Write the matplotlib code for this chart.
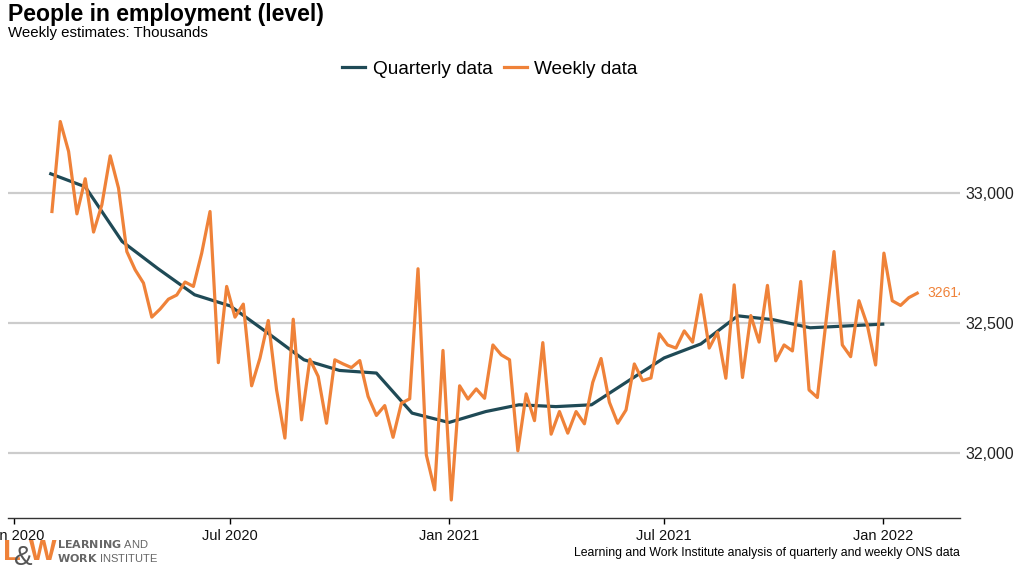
import numpy as np
import pandas as pd
import matplotlib
matplotlib.use('Agg')
import matplotlib.pyplot as plt
import matplotlib.dates as mdates
from matplotlib.ticker import FuncFormatter

plt.rcParams['font.family'] = ['Liberation Sans', 'DejaVu Sans']

# weekly estimates (thousands), one per week from 2 Feb 2020
weekly_dates = pd.date_range('2020-02-02', periods=105, freq='7D')
weekly_values = [
    32928, 33274, 33159, 32919, 33054, 32849, 32954, 33142, 33018, 32774,
    32704, 32653, 32522, 32553, 32591, 32607, 32657, 32640, 32768, 32928,
    32347, 32640, 32522, 32572, 32258, 32364, 32509, 32242, 32057, 32514,
    32127, 32360, 32294, 32114, 32358, 32342, 32328, 32355, 32217, 32144,
    32182, 32060, 32191, 32208, 32708, 31992, 31858, 32394, 31819, 32258,
    32207, 32246, 32210, 32415, 32377, 32358, 32008, 32227, 32124, 32424,
    32072, 32159, 32076, 32159, 32112, 32271, 32363, 32195, 32114, 32165,
    32342, 32278, 32288, 32458, 32415, 32403, 32469, 32426, 32608, 32403,
    32464, 32287, 32646, 32290, 32528, 32426, 32644, 32354, 32415, 32392,
    32659, 32242, 32213, 32494, 32774, 32415, 32370, 32585, 32492, 32338,
    32768, 32585, 32567, 32597, 32614,
]

# quarterly (rolling three month) estimates, monthly points
quarterly_dates = pd.date_range('2020-02-01', '2022-01-01', freq='MS')
quarterly_values = [
    33073, 33023, 32813, 32709, 32608, 32565, 32463, 32358, 32317, 32307,
    32153, 32117, 32159, 32185, 32178, 32185, 32277, 32365, 32419, 32527,
    32512, 32481, 32488, 32495,
]

orange = '#EF8239'
teal = '#1F4A56'

fig = plt.figure(figsize=(10.23, 5.80), dpi=100)
ax = fig.add_axes([0.0078, 0.107, 0.9306, 0.74])

ax.plot(quarterly_dates, quarterly_values, color=teal, lw=2.3, label='Quarterly data', zorder=3)
ax.plot(weekly_dates, weekly_values, color=orange, lw=2.3, label='Weekly data', zorder=4)

# label for the latest weekly value (runs off the edge like the original)
ax.annotate(str(weekly_values[-1]), xy=(weekly_dates[-1], weekly_values[-1]),
            xytext=(7, 0), textcoords='offset points', va='center', ha='left',
            color=orange, fontsize=10, clip_on=True)

ax.set_xlim(pd.Timestamp('2019-12-27'), pd.Timestamp('2022-03-07'))
ax.set_ylim(31750, 33400)

ax.xaxis.set_major_locator(mdates.MonthLocator(bymonth=[1, 7]))
ax.xaxis.set_major_formatter(mdates.DateFormatter('%b %Y'))
ax.set_yticks([32000, 32500, 33000])
ax.yaxis.set_major_formatter(FuncFormatter(lambda v, p: '{:,.0f}'.format(v)))
ax.yaxis.tick_right()
ax.tick_params(axis='y', length=0, pad=4, labelsize=11.5, labelcolor='#222222')
ax.tick_params(axis='x', length=4, width=1, pad=4, labelsize=10.5, labelcolor='#111111')

ax.grid(axis='y', color='#cccccc', lw=1.6)
ax.set_axisbelow(True)
for s in ['left', 'right', 'top']:
    ax.spines[s].set_visible(False)
ax.spines['bottom'].set_color('#333333')
ax.spines['bottom'].set_linewidth(1.0)

fig.legend(loc='center', bbox_to_anchor=(0.479, 0.881), ncol=2, frameon=False,
           fontsize=13.7, handlelength=1.2, columnspacing=0.6, handletextpad=0.4)

fig.text(0.008, 0.995, 'People in employment (level)', fontsize=16.6, fontweight='bold', va='top', ha='left')
fig.text(0.008, 0.943, 'Weekly estimates: Thousands', fontsize=10.8, va='center', ha='left')
fig.text(0.938, 0.0466, 'Learning and Work Institute analysis of quarterly and weekly ONS data',
         fontsize=8.8, va='center', ha='right')

# rough L&W logo
fig.text(0.003, 0.035, 'L', color=orange, fontsize=21, fontweight='bold', va='baseline')
fig.text(0.028, 0.035, 'W', color=orange, fontsize=21, fontweight='bold', va='baseline')
fig.text(0.014, 0.026, '&', color='#555555', fontsize=20, va='baseline')
fig.text(0.056, 0.062, r'$\bf{LEARNING}$ AND', color='#666666', fontsize=8, va='center')
fig.text(0.056, 0.038, r'$\bf{WORK}$ INSTITUTE', color='#666666', fontsize=8, va='center')

fig.savefig('out.png', dpi=100)
